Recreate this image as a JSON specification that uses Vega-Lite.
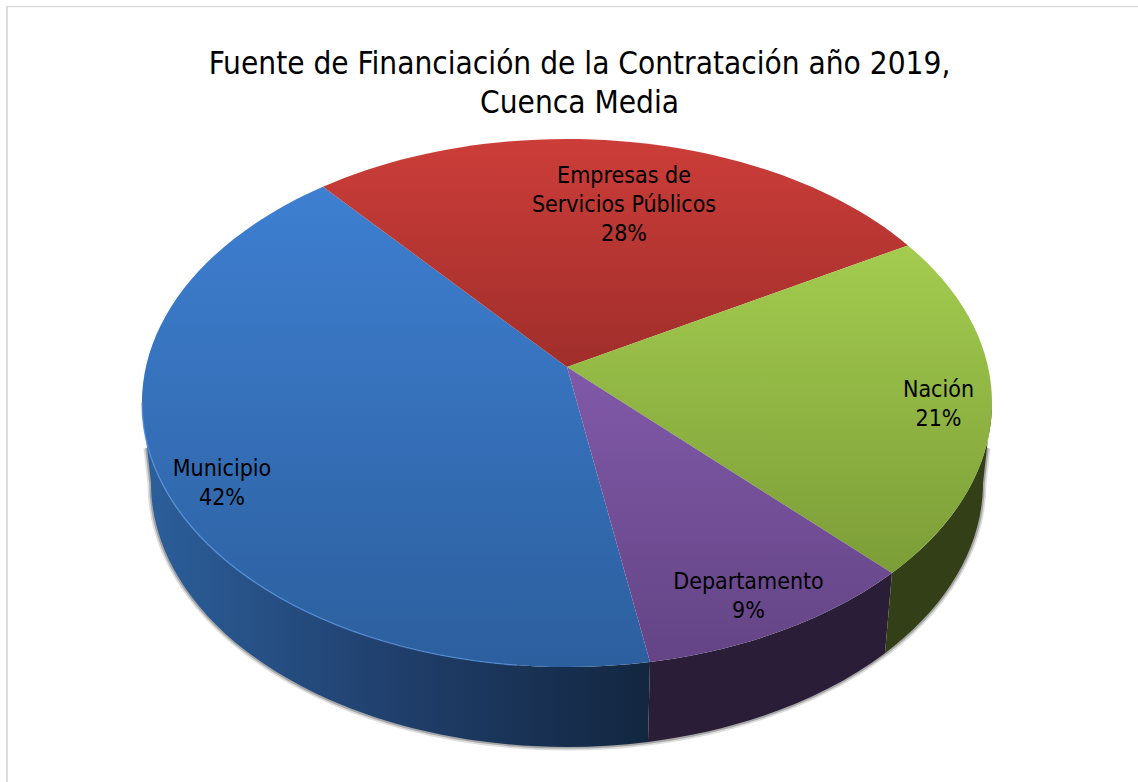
{
"$schema":"https://vega.github.io/schema/vega-lite/v6.json",
"width":1138,"height":782,"padding":0,"autosize":{"type":"none"},
"background":"#ffffff",
"view":{"stroke":null},
"title":{"text":["Fuente de Financiación de la Contratación año 2019,","Cuenca Media"],"font":"DejaVu Sans Condensed","fontSize":31.3,"fontWeight":"normal","color":"#000000","anchor":"middle","frame":"group","orient":"top","offset":-119,"dx":10.5,"lineHeight":39},
"data":{"values":[
{"fuente":"Municipio","porcentaje":42},
{"fuente":"Empresas de\nServicios Públicos","porcentaje":28},
{"fuente":"Nación","porcentaje":21},
{"fuente":"Departamento","porcentaje":9}
]},
"transform":[{"calculate":"datum.fuente + '\\n' + datum.porcentaje + '%'","as":"etiqueta"}],
"encoding":{
"x":{"datum":567,"type":"quantitative","scale":{"domain":[0,1138],"nice":false,"zero":false},"axis":null},
"y":{"datum":403,"type":"quantitative","scale":{"domain":[782,0],"nice":false,"zero":false},"axis":null}
},
"layer":[
{"data":{"values":[{"elemento":"marco"}]},"mark":{"type":"rule","stroke":"#dcdcdc","strokeWidth":1.5},
 "encoding":{"x":{"datum":6},"x2":{"datum":1138},"y":{"datum":6.5}}},
{"data":{"values":[{"elemento":"marco"}]},"mark":{"type":"rule","stroke":"#dcdcdc","strokeWidth":2},
 "encoding":{"x":{"datum":7},"y":{"datum":6},"y2":{"datum":782}}},
{"data":{"values":[{"elemento":"sombra"}]},"mark":{"type":"point","filled":false,"size":4,"opacity":0.18,"stroke":"#444444","strokeWidth":7,"shape":"M-420,45 L-416,80 A416,264 0 0 0 416,80 L420,45"}},
{"data":{"values":[{"elemento":"sombra"}]},"mark":{"type":"point","filled":false,"size":4,"opacity":0.35,"stroke":"#444444","strokeWidth":3.5,"shape":"M-420,45 L-416,80 A416,264 0 0 0 416,80 L420,45"}},
{"transform":[{"filter":"datum.porcentaje == 42"}],"mark":{"type":"point","filled":true,"size":4,"opacity":1,"strokeWidth":0,"shape":"M-425,0 A425,264 0 0 0 83,258.9 L81,338.9 A416,264 0 0 1 -416,80 Z","fill":{"gradient":"linear","x1":0,"y1":0,"x2":1,"y2":0,"stops":[{"offset":0,"color":"#2c5f9b"},{"offset":0.5,"color":"#203f6c"},{"offset":1,"color":"#12263f"}]}}},
{"transform":[{"filter":"datum.porcentaje == 9"}],"mark":{"type":"point","filled":true,"size":4,"opacity":1,"strokeWidth":0,"fill":"#2a1d37","shape":"M83,258.9 A425,264 0 0 0 325,170.1 L318,250.2 A416,264 0 0 1 81,338.9 Z"}},
{"transform":[{"filter":"datum.porcentaje == 21"}],"mark":{"type":"point","filled":true,"size":4,"opacity":1,"strokeWidth":0,"fill":"#333f16","shape":"M325,170.1 A425,264 0 0 0 425,0 L416,80 A416,264 0 0 1 318,250.2 Z"}},
{"transform":[{"filter":"datum.porcentaje == 42"}],"mark":{"type":"point","filled":true,"size":4,"opacity":1,"strokeWidth":0,"shape":"M0,-36 L-244,-216.2 A425,264 0 0 0 83,258.9 Z","fill":{"gradient":"linear","x1":0,"y1":0,"x2":0,"y2":1,"stops":[{"offset":0,"color":"#3e7fd1"},{"offset":1,"color":"#2c5f9e"}]}}},
{"transform":[{"filter":"datum.porcentaje == 28"}],"mark":{"type":"point","filled":true,"size":4,"opacity":1,"strokeWidth":0,"shape":"M0,-36 L-244,-216.2 A425,264 0 0 1 341,-157.6 Z","fill":{"gradient":"linear","x1":0,"y1":0,"x2":0,"y2":1,"stops":[{"offset":0,"color":"#cc3d39"},{"offset":1,"color":"#a02e2b"}]}}},
{"transform":[{"filter":"datum.porcentaje == 21"}],"mark":{"type":"point","filled":true,"size":4,"opacity":1,"strokeWidth":0,"shape":"M0,-36 L341,-157.6 A425,264 0 0 1 325,170.1 Z","fill":{"gradient":"linear","x1":0,"y1":0,"x2":0,"y2":1,"stops":[{"offset":0,"color":"#a3cc4f"},{"offset":1,"color":"#7c9d37"}]}}},
{"transform":[{"filter":"datum.porcentaje == 9"}],"mark":{"type":"point","filled":true,"size":4,"opacity":1,"strokeWidth":0,"shape":"M0,-36 L325,170.1 A425,264 0 0 1 83,258.9 Z","fill":{"gradient":"linear","x1":0,"y1":0,"x2":0,"y2":1,"stops":[{"offset":0,"color":"#8059a8"},{"offset":1,"color":"#644485"}]}}},
{"data":{"values":[{"elemento":"borde"}]},"mark":{"type":"point","filled":false,"size":4,"opacity":0.7,"stroke":"#5a96df","strokeWidth":1.5,"shape":"M-425,0 A425,264 0 0 0 -50,262.2"}},
{"transform":[{"filter":"datum.porcentaje == 42"}],"mark":{"type":"text","font":"DejaVu Sans Condensed","fontSize":23,"color":"#000000","lineBreak":"\n","lineHeight":29,"align":"center","baseline":"middle"},"encoding":{"x":{"datum":222},"y":{"datum":469},"text":{"field":"etiqueta"}}},
{"transform":[{"filter":"datum.porcentaje == 28"}],"mark":{"type":"text","font":"DejaVu Sans Condensed","fontSize":23,"color":"#000000","lineBreak":"\n","lineHeight":29,"align":"center","baseline":"middle"},"encoding":{"x":{"datum":624},"y":{"datum":176},"text":{"field":"etiqueta"}}},
{"transform":[{"filter":"datum.porcentaje == 21"}],"mark":{"type":"text","font":"DejaVu Sans Condensed","fontSize":23,"color":"#000000","lineBreak":"\n","lineHeight":29,"align":"center","baseline":"middle"},"encoding":{"x":{"datum":938.5},"y":{"datum":390},"text":{"field":"etiqueta"}}},
{"transform":[{"filter":"datum.porcentaje == 9"}],"mark":{"type":"text","font":"DejaVu Sans Condensed","fontSize":23,"color":"#000000","lineBreak":"\n","lineHeight":29,"align":"center","baseline":"middle"},"encoding":{"x":{"datum":748.5},"y":{"datum":582},"text":{"field":"etiqueta"}}}
]
}
